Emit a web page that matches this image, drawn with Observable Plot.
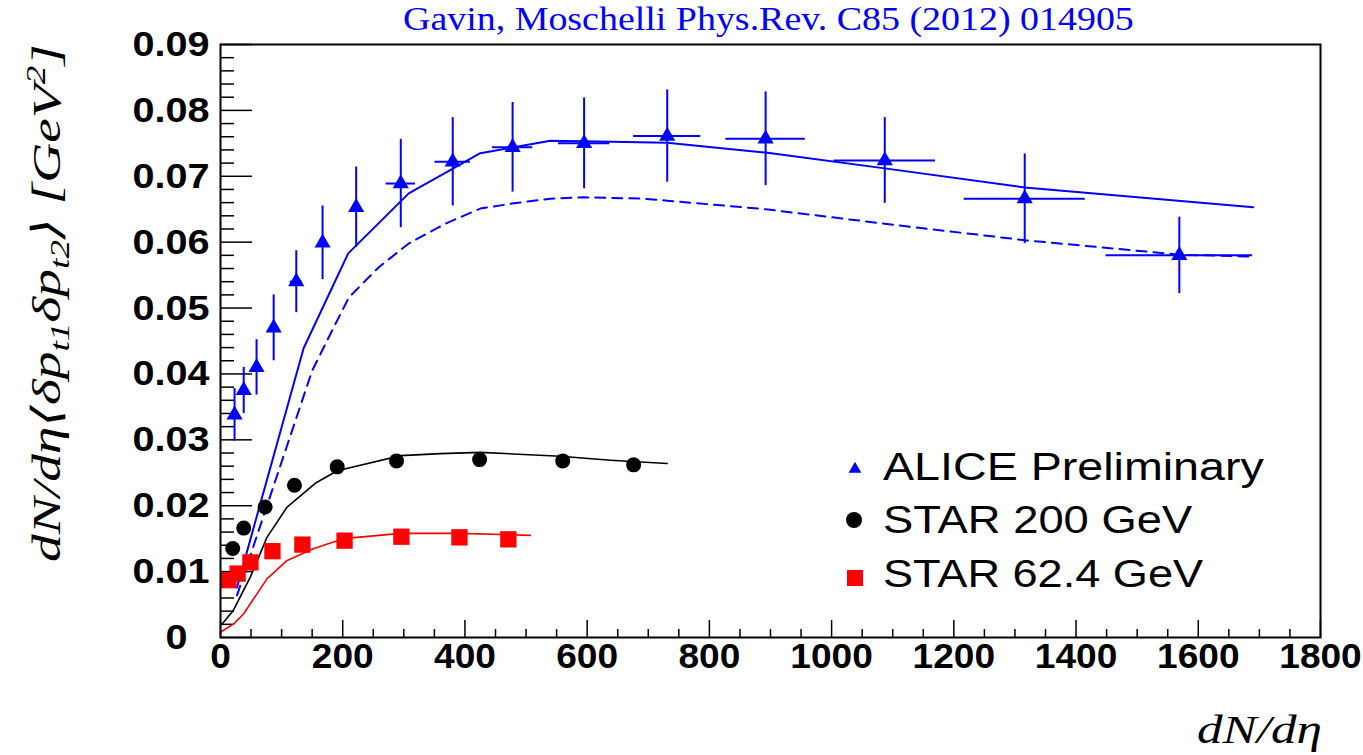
<!DOCTYPE html>
<html><head><meta charset="utf-8">
<script src="https://cdn.jsdelivr.net/npm/d3@7"></script>
<script src="https://cdn.jsdelivr.net/npm/@observablehq/plot@0.6"></script>
<style>html,body{margin:0;padding:0;background:#fff;overflow:hidden}</style>
</head><body><div id="chart"></div>
<script>
// ---- data ----
const aliceX    = [23, 38, 59, 87, 124, 167, 222, 295, 380, 478, 595, 731, 892, 1087, 1316, 1569];
const aliceY    = [0.0338, 0.0375, 0.0410, 0.0470, 0.0540, 0.0599, 0.0653, 0.0689, 0.0722, 0.0744, 0.0750, 0.0761, 0.0757, 0.0724, 0.0666, 0.0580];
const aliceYErr = [0.0040, 0.0035, 0.0042, 0.0050, 0.0047, 0.0056, 0.0061, 0.0067, 0.0067, 0.0068, 0.0069, 0.0070, 0.0071, 0.0065, 0.0068, 0.0058];
const aliceXErr = [0, 0, 0, 0, 10, 0, 0, 24, 29, 33, 42, 55, 65, 83, 99, 120];

const star200X = [20, 38, 73, 121, 191, 288, 424, 560, 676];
const star200Y = [0.0135, 0.0166, 0.0198, 0.0231, 0.0259, 0.0268, 0.0270, 0.0268, 0.0262];

const star62X = [13, 28, 49, 85, 134, 203, 296, 391, 471];
const star62Y = [0.0087, 0.0097, 0.0114, 0.0131, 0.0141, 0.0147, 0.0153, 0.0152, 0.0149];

const aliceSolidX = [27, 136, 209, 308, 381, 425, 480, 540, 594, 731, 892, 1087, 1316, 1690];
const aliceSolidY = [0.0076, 0.0439, 0.0583, 0.0674, 0.0712, 0.0735, 0.0744, 0.0754, 0.0753, 0.0751, 0.0736, 0.0712, 0.0683, 0.0653];

const aliceDashX = [27, 150, 180, 210, 259, 308, 368, 425, 480, 540, 594, 692, 731, 892, 1087, 1316, 1569, 1690];
const aliceDashY = [0.0064, 0.0405, 0.0461, 0.0516, 0.0562, 0.0598, 0.0628, 0.0651, 0.0659, 0.0666, 0.0668, 0.0666, 0.0663, 0.0650, 0.0628, 0.0603, 0.0581, 0.0578];

const star200ModelX = [3, 21, 49, 76, 109, 155, 191, 295, 360, 425, 556, 638, 731];
const star200ModelY = [0.0021, 0.0041, 0.0092, 0.0152, 0.0198, 0.0234, 0.0253, 0.0276, 0.0279, 0.0281, 0.0275, 0.0269, 0.0264];

const star62ModelX = [0, 22, 38, 76, 109, 153, 201, 295, 393, 507];
const star62ModelY = [0.0008, 0.0021, 0.0036, 0.0089, 0.0117, 0.0135, 0.0150, 0.0158, 0.0158, 0.0155];

const xMajor = [0, 200, 400, 600, 800, 1000, 1200, 1400, 1600, 1800];
const yMajor = [0, 0.01, 0.02, 0.03, 0.04, 0.05, 0.06, 0.07, 0.08, 0.09];
const xMinor = d3.range(50, 1800, 50).filter(v => v % 200 !== 0);
const yMinor = d3.range(1, 45).filter(k => k % 5 !== 0).map(k => k * 0.002);

const legendLabels = ["ALICE Preliminary", "STAR 200 GeV", "STAR 62.4 GeV"];
const titleText = "Gavin, Moschelli Phys.Rev. C85 (2012) 014905";

// ---- layout ----
const W = 1363, H = 755, mL = 220, mR = 43, mT = 44, mB = 118;
const plotW = W - mL - mR, plotH = H - mT - mB;
const BLUE = "#0000ff", RED = "#ff0000", BLACK = "#000000";

const pts = (xs, ys) => xs.map((x, i) => ({x, y: ys[i]}));
const alice = aliceX.map((x, i) => ({x, y: aliceY[i], ey: aliceYErr[i], ex: aliceXErr[i]}));
const star200 = pts(star200X, star200Y);
const star62 = pts(star62X, star62Y);

const chart = Plot.plot({
  width: W, height: H,
  marginLeft: mL, marginRight: mR, marginTop: mT, marginBottom: mB,
  style: {background: "white", color: "black", fontFamily: "'Liberation Sans', Arial, sans-serif"},
  x: {domain: [0, 1800]},
  y: {domain: [0, 0.09]},
  marks: [
    Plot.ruleX(xMinor, {stroke: BLACK, strokeWidth: 1.5, insetTop: plotH - 8}),
    Plot.ruleX(xMajor, {stroke: BLACK, strokeWidth: 1.5, insetTop: plotH - 17}),
    Plot.ruleY(yMinor, {stroke: BLACK, strokeWidth: 1.5, insetRight: plotW - 14}),
    Plot.ruleY(yMajor, {stroke: BLACK, strokeWidth: 1.5, insetRight: plotW - 32}),
    Plot.axisX(xMajor, {tickSize: 0, tickPadding: 6, fontSize: 35, fontWeight: "bold", label: null, tickFormat: d => String(d)}),
    Plot.axisY(yMajor, {tickSize: 0, tickPadding: 11, fontSize: 36, fontWeight: "bold", label: null,
      tickFormat: d => d === 0 ? "0\u00a0\u00a0" : d.toFixed(2)}),
    Plot.line(pts(star62ModelX, star62ModelY), {x: "x", y: "y", stroke: RED, strokeWidth: 1.6}),
    Plot.line(pts(star200ModelX, star200ModelY), {x: "x", y: "y", stroke: BLACK, strokeWidth: 1.6}),
    Plot.line(pts(aliceDashX, aliceDashY), {x: "x", y: "y", stroke: BLUE, strokeWidth: 2, strokeDasharray: "10,7"}),
    Plot.line(pts(aliceSolidX, aliceSolidY), {x: "x", y: "y", stroke: BLUE, strokeWidth: 2}),
    Plot.ruleX(alice, {x: "x", y1: d => d.y - d.ey, y2: d => d.y + d.ey, stroke: BLUE, strokeWidth: 2}),
    Plot.ruleY(alice.filter(d => d.ex > 0), {y: "y", x1: d => d.x - d.ex, x2: d => d.x + d.ex, stroke: BLUE, strokeWidth: 2}),
    Plot.dot(star62, {x: "x", y: "y", symbol: "square", r: 9.2, fill: RED, stroke: "none"}),
    Plot.dot(star200, {x: "x", y: "y", symbol: "circle", r: 7.5, fill: BLACK, stroke: "none"}),
    Plot.dot(alice, {x: "x", y: "y", symbol: "triangle", r: 6, fill: BLUE, stroke: "none"}),
    Plot.frame({stroke: BLACK, strokeWidth: 2})
  ]
});
document.getElementById("chart").appendChild(chart);

// stretch tick labels horizontally like the reference (keep x/y/dy attributes)
chart.querySelectorAll("text").forEach(t => {
  const g = t.closest("g[aria-label]");
  const lab = g ? g.getAttribute("aria-label") : "";
  const s = lab.includes("y-axis") ? 1.1 : 1.06;
  const xa = t.getAttribute("x");
  if (xa !== null && !isNaN(+xa) && +xa !== 0) t.setAttribute("x", +xa / s);
  const tr = t.getAttribute("transform") || "";
  t.setAttribute("transform", `${tr} scale(${s},1)`);
});

const svg = d3.select(chart);
function addText(build, {x, y, anchor = "start", size, family, weight = "normal", style = "normal", fill = BLACK, targetW, rotate = 0}) {
  const t = svg.append("text")
    .attr("text-anchor", anchor)
    .attr("font-size", size).attr("font-family", family)
    .attr("font-weight", weight).attr("font-style", style)
    .attr("fill", fill);
  build(t);
  const bw = t.node().getBBox().width;
  const s = targetW && bw ? targetW / bw : 1;
  t.attr("transform", `translate(${x},${y}) rotate(${rotate}) scale(${s},1)`);
  return t;
}
const serif = "'Liberation Serif', 'DejaVu Serif', 'Times New Roman', serif";
const sans = "'Liberation Sans', Arial, sans-serif";

// title
addText(t => t.text(titleText), {x: 403, y: 30, size: 33, family: serif, fill: BLUE, targetW: 731});

// y-axis title
addText(t => {
  t.append("tspan").text("dN/d\u03b7\u27e8\u03b4p");
  t.append("tspan").attr("font-size", 27).attr("dy", 9).text("t1");
  t.append("tspan").attr("dy", -9).text("\u03b4p");
  t.append("tspan").attr("font-size", 27).attr("dy", 9).text("t2");
  t.append("tspan").attr("dy", -9).text("\u27e9 [GeV");
  t.append("tspan").attr("font-size", 27).attr("dy", -15).text("2");
  t.append("tspan").attr("dy", 15).text("]");
}, {x: 60, y: 303, anchor: "middle", size: 40, family: serif, style: "italic", targetW: 518, rotate: -90});

// x-axis title
addText(t => t.text("dN/d\u03b7"), {x: 1322, y: 743, anchor: "end", size: 40, family: serif, style: "italic", targetW: 125});

// legend
const legBase = [480, 533, 587];
const legW = [381, 310, 321];
legendLabels.forEach((lab, i) => addText(t => t.text(lab), {x: 883, y: legBase[i], size: 38, family: sans, targetW: legW[i]}));
svg.append("path").attr("d", d3.symbol(d3.symbolTriangle, 70)()).attr("transform", "translate(855,469)").attr("fill", BLUE);
svg.append("circle").attr("cx", 854).attr("cy", 520).attr("r", 8).attr("fill", BLACK);
svg.append("rect").attr("x", 847).attr("y", 570).attr("width", 16).attr("height", 16).attr("fill", RED);
</script>
</body></html>
